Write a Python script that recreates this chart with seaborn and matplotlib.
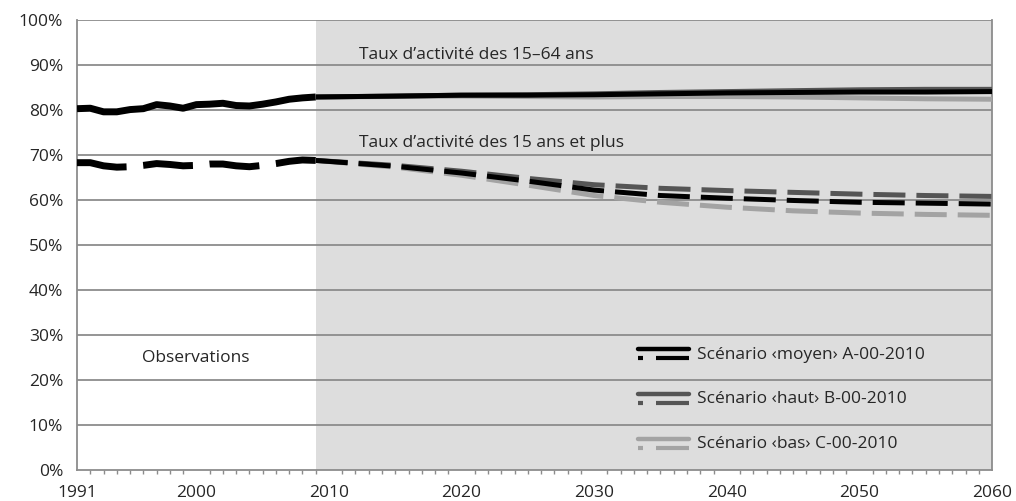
import numpy as np
import pandas as pd
import seaborn as sns
import matplotlib.pyplot as plt
from matplotlib.lines import Line2D
from matplotlib.legend_handler import HandlerBase
from matplotlib.ticker import MultipleLocator, FixedLocator, FuncFormatter

# observations 1991-2009
obs_years = list(range(1991, 2010))
obs_1564 = [80.3, 80.4, 79.6, 79.6, 80.1, 80.3, 81.2, 80.9, 80.4, 81.2,
            81.3, 81.5, 81.0, 80.9, 81.3, 81.8, 82.4, 82.7, 82.9]
obs_15p = [68.3, 68.3, 67.6, 67.3, 67.4, 67.7, 68.1, 67.9, 67.6, 67.7,
           68.0, 68.0, 67.6, 67.4, 67.7, 68.1, 68.6, 68.9, 68.8]

# projections 2009-2060
proj_years = [2009, 2015, 2020, 2025, 2030, 2035, 2040, 2045, 2050, 2055, 2060]
moyen_1564 = [82.9, 83.1, 83.3, 83.3, 83.4, 83.6, 83.8, 83.9, 84.0, 84.0, 84.1]
haut_1564 = [82.9, 83.1, 83.3, 83.4, 83.6, 83.9, 84.1, 84.3, 84.5, 84.6, 84.6]
bas_1564 = [82.9, 83.0, 83.1, 83.0, 82.9, 83.0, 83.0, 82.9, 82.7, 82.5, 82.4]
moyen_15p = [68.8, 67.5, 66.0, 64.2, 62.2, 61.0, 60.4, 59.9, 59.5, 59.3, 59.1]
haut_15p = [68.8, 67.7, 66.4, 64.8, 63.4, 62.6, 62.1, 61.7, 61.3, 61.0, 60.8]
bas_15p = [68.8, 67.3, 65.5, 63.3, 61.0, 59.5, 58.4, 57.6, 57.1, 56.8, 56.6]

scenarios = ["Scénario \u2039moyen\u203a A-00-2010",
             "Scénario \u2039haut\u203a B-00-2010",
             "Scénario \u2039bas\u203a C-00-2010"]
colors = ["#000000", "#555555", "#a3a3a3"]
xticks = [1991, 2000, 2010, 2020, 2030, 2040, 2050, 2060]

sns.set_style("white")
plt.rcParams['font.family'] = ['Open Sans', 'DejaVu Sans']
plt.rcParams['font.size'] = 12.5

fig = plt.figure(figsize=(10.16, 5.01), dpi=100)
ax = fig.add_axes([0.0758, 0.0619, 0.9006, 0.8981])

grid_c = "#8c8c8c"
ax.axvspan(2009, 2060, color="#dddddd", zorder=0, lw=0)
for v in range(10, 101, 10):
    ax.axhline(v, color=grid_c, lw=1.3, zorder=1)

obs = pd.DataFrame({"annee": obs_years, "a": obs_1564, "b": obs_15p})
sns.lineplot(data=obs, x="annee", y="a", ax=ax, color="black", lw=5,
             solid_capstyle="butt", zorder=3)
sns.lineplot(data=obs, x="annee", y="b", ax=ax, color="black", lw=5,
             linestyle=(0, (7.2, 2.4)), dash_capstyle="butt", zorder=3)

proj = pd.DataFrame({"annee": proj_years,
                     "m_a": moyen_1564, "h_a": haut_1564, "b_a": bas_1564,
                     "m_b": moyen_15p, "h_b": haut_15p, "b_b": bas_15p})
for key, col in [("b", colors[2]), ("h", colors[1]), ("m", colors[0])]:
    sns.lineplot(data=proj, x="annee", y=key + "_a", ax=ax, color=col, lw=3.6,
                 solid_capstyle="butt", zorder=3)
    sns.lineplot(data=proj, x="annee", y=key + "_b", ax=ax, color=col, lw=3.6,
                 linestyle=(0, (6.4, 2.2)), dash_capstyle="butt", zorder=3)

ax.set_xlim(1991, 2060)
ax.set_ylim(0, 100)
ax.set_xlabel("")
ax.set_ylabel("")
ax.yaxis.set_major_locator(MultipleLocator(10))
ax.yaxis.set_major_formatter(FuncFormatter(lambda v, p: f"{v:.0f}%"))
ax.xaxis.set_major_locator(FixedLocator(xticks))
ax.xaxis.set_minor_locator(MultipleLocator(1))
ax.tick_params(axis="y", length=6, width=1.3, color=grid_c, pad=4, labelsize=12.5)
ax.tick_params(axis="x", which="major", length=6, width=1.3, color=grid_c,
               pad=5, labelsize=12.5, direction="out")
ax.tick_params(axis="x", which="minor", length=3, width=1, color=grid_c,
               direction="out", bottom=True)
for s in ax.spines.values():
    s.set_color(grid_c)
    s.set_linewidth(1.3)
ax.spines["top"].set_visible(False)

ax.text(2012.3, 92.2, "Taux d\u2019activité des 15\u201364 ans", va="center",
        ha="left", fontsize=12.5)
ax.text(2012.3, 72.7, "Taux d\u2019activité des 15 ans et plus", va="center",
        ha="left", fontsize=12.5)
ax.text(1995.9, 24.9, "Observations", va="center", ha="left", fontsize=12.5)


class TwoLineHandler(HandlerBase):
    def create_artists(self, legend, orig_handle, xdescent, ydescent,
                       width, height, fontsize, trans):
        c = orig_handle.get_color()
        top = Line2D([0, width], [height * 0.95] * 2, color=c, lw=3.2,
                     solid_capstyle="round", transform=trans)
        dot = Line2D([0, width * 0.1], [height * 0.05] * 2, color=c, lw=3,
                     solid_capstyle="butt", transform=trans)
        dash = Line2D([width * 0.35, width], [height * 0.05] * 2, color=c, lw=3,
                      solid_capstyle="butt", transform=trans)
        return [top, dot, dash]


handles = [Line2D([], [], color=c) for c in colors]
ax.legend(handles, scenarios, handler_map={Line2D: TwoLineHandler()},
          loc="upper left", bbox_to_anchor=(0.604, 0.293), frameon=False,
          handlelength=2.9, handleheight=0.5, labelspacing=1.65,
          handletextpad=0.5, fontsize=12.5, borderpad=0)

fig.savefig("out.png", dpi=100)
